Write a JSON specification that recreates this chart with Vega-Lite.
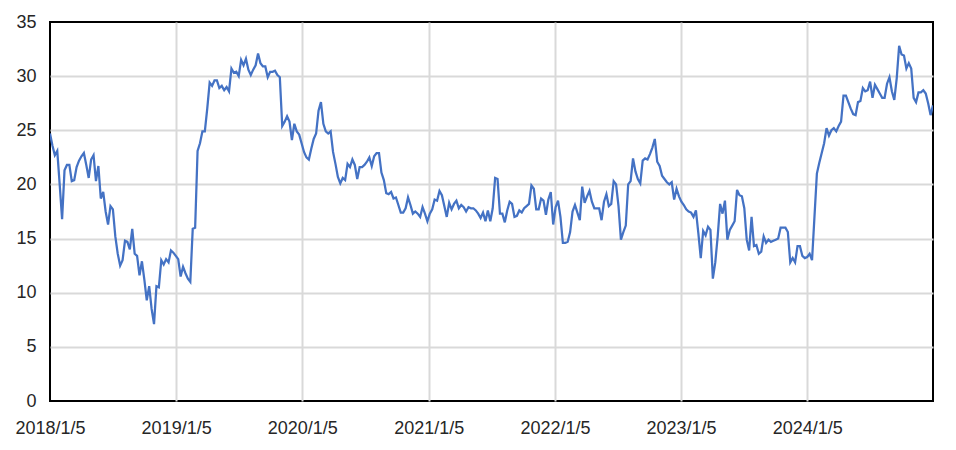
{
  "$schema": "https://vega.github.io/schema/vega-lite/v6.json",
  "width": 883,
  "height": 379,
  "autosize": {"type": "none"},
  "padding": {"left": 50, "top": 22, "right": 23, "bottom": 49},
  "background": "white",
  "config": {
    "view": {"stroke": "black", "strokeWidth": 2},
    "axis": {
      "domain": false,
      "ticks": false,
      "grid": true,
      "gridWidth": 2,
      "labelFont": "Liberation Sans",
      "labelFontSize": 18,
      "labelColor": "#262626",
      "title": null
    }
  },
  "data": {"values": [
{"d":"2018/1/5","v":24.7},{"d":"2018/1/12","v":23.6},{"d":"2018/1/19","v":22.7},{"d":"2018/1/26","v":23.1},{"d":"2018/2/2","v":20.0},{"d":"2018/2/9","v":16.8},{"d":"2018/2/16","v":21.3},{"d":"2018/2/23","v":21.8},{"d":"2018/3/2","v":21.8},{"d":"2018/3/9","v":20.3},{"d":"2018/3/16","v":20.4},{"d":"2018/3/23","v":21.6},{"d":"2018/3/30","v":22.2},{"d":"2018/4/6","v":22.6},{"d":"2018/4/13","v":22.9},{"d":"2018/4/20","v":21.8},{"d":"2018/4/27","v":20.6},{"d":"2018/5/4","v":22.3},{"d":"2018/5/11","v":22.7},{"d":"2018/5/18","v":20.3},{"d":"2018/5/25","v":21.7},{"d":"2018/6/1","v":18.7},{"d":"2018/6/8","v":19.3},{"d":"2018/6/15","v":17.5},{"d":"2018/6/22","v":16.3},{"d":"2018/6/29","v":18.0},{"d":"2018/7/6","v":17.7},{"d":"2018/7/13","v":15.2},{"d":"2018/7/20","v":13.6},{"d":"2018/7/27","v":12.5},{"d":"2018/8/3","v":13.0},{"d":"2018/8/10","v":14.8},{"d":"2018/8/17","v":14.7},{"d":"2018/8/24","v":14.0},{"d":"2018/8/31","v":15.9},{"d":"2018/9/7","v":13.6},{"d":"2018/9/14","v":13.4},{"d":"2018/9/21","v":11.6},{"d":"2018/9/28","v":12.9},{"d":"2018/10/5","v":11.2},{"d":"2018/10/12","v":9.3},{"d":"2018/10/19","v":10.6},{"d":"2018/10/26","v":8.5},{"d":"2018/11/2","v":7.1},{"d":"2018/11/9","v":10.6},{"d":"2018/11/16","v":10.5},{"d":"2018/11/23","v":13.0},{"d":"2018/11/30","v":12.6},{"d":"2018/12/7","v":13.1},{"d":"2018/12/14","v":12.8},{"d":"2018/12/21","v":13.9},{"d":"2018/12/28","v":13.7},
{"d":"2019/1/4","v":13.4},{"d":"2019/1/11","v":13.1},{"d":"2019/1/18","v":11.5},{"d":"2019/1/25","v":12.4},{"d":"2019/2/1","v":11.8},{"d":"2019/2/8","v":11.3},{"d":"2019/2/15","v":11.0},{"d":"2019/2/22","v":15.9},{"d":"2019/3/1","v":16.0},{"d":"2019/3/8","v":23.1},{"d":"2019/3/15","v":23.8},{"d":"2019/3/22","v":24.9},{"d":"2019/3/29","v":24.9},{"d":"2019/4/5","v":27.0},{"d":"2019/4/12","v":29.4},{"d":"2019/4/19","v":29.1},{"d":"2019/4/26","v":29.6},{"d":"2019/5/3","v":29.6},{"d":"2019/5/10","v":28.9},{"d":"2019/5/17","v":29.1},{"d":"2019/5/24","v":28.7},{"d":"2019/5/31","v":29.0},{"d":"2019/6/7","v":28.6},{"d":"2019/6/14","v":30.7},{"d":"2019/6/21","v":30.3},{"d":"2019/6/28","v":30.4},{"d":"2019/7/5","v":30.0},{"d":"2019/7/12","v":31.5},{"d":"2019/7/19","v":31.0},{"d":"2019/7/26","v":31.6},{"d":"2019/8/2","v":30.6},{"d":"2019/8/9","v":30.1},{"d":"2019/8/16","v":30.6},{"d":"2019/8/23","v":31.0},{"d":"2019/8/30","v":32.1},{"d":"2019/9/6","v":31.2},{"d":"2019/9/13","v":30.9},{"d":"2019/9/20","v":30.9},{"d":"2019/9/27","v":29.9},{"d":"2019/10/4","v":30.4},{"d":"2019/10/11","v":30.4},{"d":"2019/10/18","v":30.5},{"d":"2019/10/25","v":30.1},{"d":"2019/11/1","v":29.9},{"d":"2019/11/8","v":25.4},{"d":"2019/11/15","v":25.8},{"d":"2019/11/22","v":26.3},{"d":"2019/11/29","v":25.8},{"d":"2019/12/6","v":24.1},{"d":"2019/12/13","v":25.6},{"d":"2019/12/20","v":24.9},{"d":"2019/12/27","v":24.6},
{"d":"2020/1/3","v":23.8},{"d":"2020/1/10","v":23.0},{"d":"2020/1/17","v":22.5},{"d":"2020/1/24","v":22.3},{"d":"2020/1/31","v":23.3},{"d":"2020/2/7","v":24.2},{"d":"2020/2/14","v":24.7},{"d":"2020/2/21","v":26.8},{"d":"2020/2/28","v":27.6},{"d":"2020/3/6","v":25.6},{"d":"2020/3/13","v":24.9},{"d":"2020/3/20","v":24.7},{"d":"2020/3/27","v":24.9},{"d":"2020/4/3","v":23.0},{"d":"2020/4/10","v":21.9},{"d":"2020/4/17","v":20.7},{"d":"2020/4/24","v":20.1},{"d":"2020/5/1","v":20.6},{"d":"2020/5/8","v":20.4},{"d":"2020/5/15","v":21.9},{"d":"2020/5/22","v":21.6},{"d":"2020/5/29","v":22.3},{"d":"2020/6/5","v":21.8},{"d":"2020/6/12","v":20.5},{"d":"2020/6/19","v":21.6},{"d":"2020/6/26","v":21.6},{"d":"2020/7/3","v":21.8},{"d":"2020/7/10","v":22.1},{"d":"2020/7/17","v":22.5},{"d":"2020/7/24","v":21.7},{"d":"2020/7/31","v":22.6},{"d":"2020/8/7","v":22.9},{"d":"2020/8/14","v":22.9},{"d":"2020/8/21","v":21.1},{"d":"2020/8/28","v":20.4},{"d":"2020/9/4","v":19.2},{"d":"2020/9/11","v":19.1},{"d":"2020/9/18","v":19.3},{"d":"2020/9/25","v":18.7},{"d":"2020/10/2","v":18.8},{"d":"2020/10/9","v":18.1},{"d":"2020/10/16","v":17.4},{"d":"2020/10/23","v":17.4},{"d":"2020/10/30","v":17.8},{"d":"2020/11/6","v":18.8},{"d":"2020/11/13","v":18.1},{"d":"2020/11/20","v":17.3},{"d":"2020/11/27","v":17.5},{"d":"2020/12/4","v":17.3},{"d":"2020/12/11","v":17.0},{"d":"2020/12/18","v":17.9},{"d":"2020/12/25","v":17.3},
{"d":"2021/1/1","v":16.6},{"d":"2021/1/8","v":17.3},{"d":"2021/1/15","v":17.7},{"d":"2021/1/22","v":18.6},{"d":"2021/1/29","v":18.5},{"d":"2021/2/5","v":19.4},{"d":"2021/2/12","v":19.0},{"d":"2021/2/19","v":18.0},{"d":"2021/2/26","v":17.0},{"d":"2021/3/5","v":18.3},{"d":"2021/3/12","v":17.7},{"d":"2021/3/19","v":18.2},{"d":"2021/3/26","v":18.5},{"d":"2021/4/2","v":17.8},{"d":"2021/4/9","v":18.1},{"d":"2021/4/16","v":17.9},{"d":"2021/4/23","v":17.5},{"d":"2021/4/30","v":17.9},{"d":"2021/5/7","v":17.8},{"d":"2021/5/14","v":17.8},{"d":"2021/5/21","v":17.6},{"d":"2021/5/28","v":17.3},{"d":"2021/6/4","v":16.9},{"d":"2021/6/11","v":17.4},{"d":"2021/6/18","v":16.6},{"d":"2021/6/25","v":17.6},{"d":"2021/7/2","v":16.6},{"d":"2021/7/9","v":17.8},{"d":"2021/7/16","v":20.6},{"d":"2021/7/23","v":20.5},{"d":"2021/7/30","v":17.3},{"d":"2021/8/6","v":17.3},{"d":"2021/8/13","v":16.5},{"d":"2021/8/20","v":17.6},{"d":"2021/8/27","v":18.4},{"d":"2021/9/3","v":18.2},{"d":"2021/9/10","v":17.0},{"d":"2021/9/17","v":17.1},{"d":"2021/9/24","v":17.6},{"d":"2021/10/1","v":17.4},{"d":"2021/10/8","v":17.8},{"d":"2021/10/15","v":18.0},{"d":"2021/10/22","v":18.2},{"d":"2021/10/29","v":19.9},{"d":"2021/11/5","v":19.6},{"d":"2021/11/12","v":17.7},{"d":"2021/11/19","v":17.7},{"d":"2021/11/26","v":18.7},{"d":"2021/12/3","v":18.5},{"d":"2021/12/10","v":17.2},{"d":"2021/12/17","v":18.6},{"d":"2021/12/24","v":19.3},{"d":"2021/12/31","v":16.3},
{"d":"2022/1/7","v":17.9},{"d":"2022/1/14","v":18.5},{"d":"2022/1/21","v":17.0},{"d":"2022/1/28","v":14.6},{"d":"2022/2/4","v":14.6},{"d":"2022/2/11","v":14.7},{"d":"2022/2/18","v":15.6},{"d":"2022/2/25","v":17.5},{"d":"2022/3/4","v":18.1},{"d":"2022/3/11","v":17.4},{"d":"2022/3/18","v":16.7},{"d":"2022/3/25","v":19.8},{"d":"2022/4/1","v":18.3},{"d":"2022/4/8","v":18.9},{"d":"2022/4/15","v":19.4},{"d":"2022/4/22","v":18.4},{"d":"2022/4/29","v":17.8},{"d":"2022/5/6","v":17.8},{"d":"2022/5/13","v":17.8},{"d":"2022/5/20","v":16.7},{"d":"2022/5/27","v":18.4},{"d":"2022/6/3","v":19.1},{"d":"2022/6/10","v":18.0},{"d":"2022/6/17","v":18.2},{"d":"2022/6/24","v":20.3},{"d":"2022/7/1","v":20.0},{"d":"2022/7/8","v":18.0},{"d":"2022/7/15","v":14.9},{"d":"2022/7/22","v":15.6},{"d":"2022/7/29","v":16.2},{"d":"2022/8/5","v":20.0},{"d":"2022/8/12","v":20.3},{"d":"2022/8/19","v":22.4},{"d":"2022/8/26","v":21.2},{"d":"2022/9/2","v":20.5},{"d":"2022/9/9","v":20.1},{"d":"2022/9/16","v":22.2},{"d":"2022/9/23","v":22.4},{"d":"2022/9/30","v":22.3},{"d":"2022/10/7","v":22.8},{"d":"2022/10/14","v":23.4},{"d":"2022/10/21","v":24.2},{"d":"2022/10/28","v":22.1},{"d":"2022/11/4","v":21.7},{"d":"2022/11/11","v":20.8},{"d":"2022/11/18","v":20.5},{"d":"2022/11/25","v":20.2},{"d":"2022/12/2","v":20.0},{"d":"2022/12/9","v":20.2},{"d":"2022/12/16","v":18.6},{"d":"2022/12/23","v":19.6},{"d":"2022/12/30","v":18.9},
{"d":"2023/1/6","v":18.4},{"d":"2023/1/13","v":18.1},{"d":"2023/1/20","v":17.7},{"d":"2023/1/27","v":17.5},{"d":"2023/2/3","v":17.4},{"d":"2023/2/10","v":17.0},{"d":"2023/2/17","v":17.6},{"d":"2023/2/24","v":15.5},{"d":"2023/3/3","v":13.2},{"d":"2023/3/10","v":15.7},{"d":"2023/3/17","v":15.3},{"d":"2023/3/24","v":16.1},{"d":"2023/3/31","v":15.8},{"d":"2023/4/7","v":11.3},{"d":"2023/4/14","v":12.8},{"d":"2023/4/21","v":15.2},{"d":"2023/4/28","v":18.2},{"d":"2023/5/5","v":17.3},{"d":"2023/5/12","v":18.5},{"d":"2023/5/19","v":14.9},{"d":"2023/5/26","v":15.8},{"d":"2023/6/2","v":16.2},{"d":"2023/6/9","v":16.6},{"d":"2023/6/16","v":19.5},{"d":"2023/6/23","v":19.0},{"d":"2023/6/30","v":18.9},{"d":"2023/7/7","v":17.8},{"d":"2023/7/14","v":14.9},{"d":"2023/7/21","v":13.9},{"d":"2023/7/28","v":17.0},{"d":"2023/8/4","v":14.3},{"d":"2023/8/11","v":14.4},{"d":"2023/8/18","v":13.6},{"d":"2023/8/25","v":13.8},{"d":"2023/9/1","v":15.2},{"d":"2023/9/8","v":14.6},{"d":"2023/9/15","v":14.9},{"d":"2023/9/22","v":14.7},{"d":"2023/9/29","v":14.8},{"d":"2023/10/6","v":14.9},{"d":"2023/10/13","v":15.0},{"d":"2023/10/20","v":16.0},{"d":"2023/10/27","v":16.0},{"d":"2023/11/3","v":16.0},{"d":"2023/11/10","v":15.6},{"d":"2023/11/17","v":12.8},{"d":"2023/11/24","v":13.2},{"d":"2023/12/1","v":12.8},{"d":"2023/12/8","v":14.3},{"d":"2023/12/15","v":14.3},{"d":"2023/12/22","v":13.4},{"d":"2023/12/29","v":13.2},
{"d":"2024/1/5","v":13.3},{"d":"2024/1/12","v":13.6},{"d":"2024/1/19","v":13.0},{"d":"2024/1/26","v":17.0},{"d":"2024/2/2","v":21.0},{"d":"2024/2/9","v":22.0},{"d":"2024/2/16","v":22.9},{"d":"2024/2/23","v":23.8},{"d":"2024/3/1","v":25.2},{"d":"2024/3/8","v":24.5},{"d":"2024/3/15","v":25.0},{"d":"2024/3/22","v":25.2},{"d":"2024/3/29","v":24.9},{"d":"2024/4/5","v":25.4},{"d":"2024/4/12","v":25.8},{"d":"2024/4/19","v":28.2},{"d":"2024/4/26","v":28.2},{"d":"2024/5/3","v":27.6},{"d":"2024/5/10","v":27.0},{"d":"2024/5/17","v":26.5},{"d":"2024/5/24","v":26.4},{"d":"2024/5/31","v":27.6},{"d":"2024/6/7","v":27.7},{"d":"2024/6/14","v":28.9},{"d":"2024/6/21","v":28.6},{"d":"2024/6/28","v":28.7},{"d":"2024/7/5","v":29.5},{"d":"2024/7/12","v":28.0},{"d":"2024/7/19","v":29.2},{"d":"2024/7/26","v":28.8},{"d":"2024/8/2","v":28.4},{"d":"2024/8/9","v":28.0},{"d":"2024/8/16","v":28.0},{"d":"2024/8/23","v":29.3},{"d":"2024/8/30","v":29.9},{"d":"2024/9/6","v":28.6},{"d":"2024/9/13","v":27.8},{"d":"2024/9/20","v":29.8},{"d":"2024/9/27","v":32.8},{"d":"2024/10/4","v":32.0},{"d":"2024/10/11","v":31.9},{"d":"2024/10/18","v":30.7},{"d":"2024/10/25","v":31.2},{"d":"2024/11/1","v":30.7},{"d":"2024/11/8","v":28.0},{"d":"2024/11/15","v":27.6},{"d":"2024/11/22","v":28.5},{"d":"2024/11/29","v":28.5},{"d":"2024/12/6","v":28.7},{"d":"2024/12/13","v":28.4},{"d":"2024/12/20","v":27.5},{"d":"2024/12/27","v":26.4},{"d":"2025/1/3","v":27.3}
  ]},
  "mark": {"type": "line", "color": "#4472C4", "strokeWidth": 2.25, "clip": true},
  "encoding": {
    "x": {
      "field": "d",
      "type": "temporal",
      "scale": {"domain": [{"year": 2018, "month": 1, "date": 5}, {"year": 2025, "month": 1, "date": 3}]},
      "axis": {
        "values": [
          {"year": 2018, "month": 1, "date": 5},
          {"year": 2019, "month": 1, "date": 5},
          {"year": 2020, "month": 1, "date": 5},
          {"year": 2021, "month": 1, "date": 5},
          {"year": 2022, "month": 1, "date": 5},
          {"year": 2023, "month": 1, "date": 5},
          {"year": 2024, "month": 1, "date": 5}
        ],
        "format": "%Y/%-m/%-d",
        "labelPadding": 18,
        "labelOverlap": false,
        "labelFlush": false,
        "gridColor": {"condition": {"test": "year(datum.value) == 2018", "value": "transparent"}, "value": "#d9d9d9"}
      }
    },
    "y": {
      "field": "v",
      "type": "quantitative",
      "scale": {"domain": [0, 35], "nice": false},
      "axis": {
        "values": [0, 5, 10, 15, 20, 25, 30, 35],
        "labelPadding": 14,
        "gridColor": {"condition": {"test": "datum.value == 0 || datum.value == 35", "value": "transparent"}, "value": "#d9d9d9"}
      }
    }
  }
}
